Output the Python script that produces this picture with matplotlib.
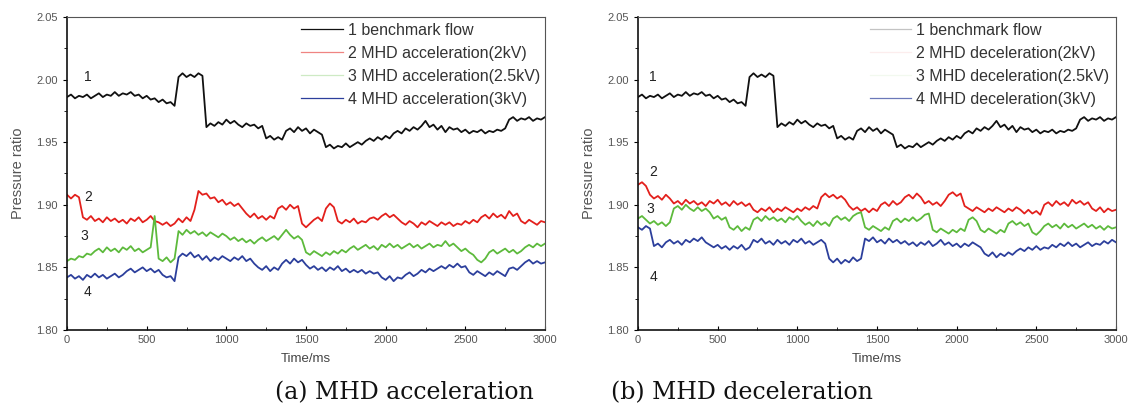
import numpy as np
import matplotlib
matplotlib.use('Agg')
import matplotlib.pyplot as plt
from matplotlib.ticker import MultipleLocator

# time grid (ms), one reading every 25 ms
time_ms = np.arange(0, 3001, 25)

# 1 benchmark flow (same run in both panels)
benchmark = [1.986, 1.988, 1.985, 1.987, 1.986, 1.988, 1.985, 1.987, 1.989, 1.986,
             1.988, 1.987, 1.990, 1.987, 1.989, 1.988, 1.990, 1.987, 1.988, 1.985,
             1.987, 1.984, 1.985, 1.982, 1.984, 1.981, 1.982, 1.979, 2.002, 2.005,
             2.002, 2.004, 2.002, 2.005, 2.003, 1.962, 1.965, 1.963, 1.966, 1.964,
             1.968, 1.965, 1.967, 1.964, 1.962, 1.965, 1.963, 1.964, 1.961, 1.963,
             1.953, 1.955, 1.952, 1.954, 1.952, 1.959, 1.961, 1.958, 1.962, 1.959,
             1.961, 1.957, 1.960, 1.958, 1.956, 1.946, 1.948, 1.945, 1.947, 1.946,
             1.949, 1.946, 1.948, 1.950, 1.948, 1.951, 1.953, 1.951, 1.954, 1.952,
             1.955, 1.953, 1.957, 1.959, 1.957, 1.961, 1.959, 1.962, 1.960, 1.963,
             1.967, 1.962, 1.964, 1.960, 1.963, 1.958, 1.962, 1.960, 1.961, 1.958,
             1.960, 1.957, 1.959, 1.958, 1.960, 1.957, 1.959, 1.958, 1.960, 1.959,
             1.961, 1.968, 1.970, 1.967, 1.969, 1.968, 1.970, 1.967, 1.969, 1.968,
             1.970]

# (a) MHD acceleration
acc_2kv = [1.908, 1.905, 1.908, 1.906, 1.890, 1.888, 1.891, 1.887, 1.889, 1.886,
           1.890, 1.887, 1.889, 1.886, 1.888, 1.885, 1.889, 1.887, 1.890, 1.886,
           1.888, 1.891, 1.887, 1.886, 1.884, 1.886, 1.883, 1.885, 1.889, 1.886,
           1.890, 1.887, 1.896, 1.911, 1.908, 1.909, 1.905, 1.906, 1.902, 1.904,
           1.900, 1.902, 1.899, 1.901, 1.897, 1.893, 1.890, 1.893, 1.889, 1.891,
           1.888, 1.891, 1.889, 1.897, 1.899, 1.896, 1.900, 1.897, 1.899, 1.885,
           1.882, 1.885, 1.888, 1.890, 1.887, 1.897, 1.901, 1.898, 1.887, 1.885,
           1.888, 1.886, 1.889, 1.885, 1.887, 1.886, 1.889, 1.890, 1.888, 1.891,
           1.893, 1.890, 1.892, 1.889, 1.886, 1.884, 1.887, 1.885, 1.882, 1.886,
           1.884, 1.887, 1.885, 1.883, 1.886, 1.884, 1.886, 1.883, 1.885, 1.884,
           1.887, 1.885, 1.888, 1.886, 1.890, 1.892, 1.889, 1.893, 1.890, 1.892,
           1.889, 1.895, 1.891, 1.893, 1.887, 1.885, 1.888, 1.886, 1.884, 1.887,
           1.886]
acc_25kv = [1.855, 1.857, 1.856, 1.859, 1.858, 1.861, 1.860, 1.863, 1.865, 1.862,
            1.866, 1.863, 1.865, 1.862, 1.866, 1.864, 1.867, 1.863, 1.865, 1.862,
            1.864, 1.866, 1.891, 1.857, 1.855, 1.858, 1.854, 1.857, 1.879, 1.876,
            1.880, 1.877, 1.879, 1.876, 1.878, 1.875, 1.878, 1.876, 1.874, 1.877,
            1.875, 1.872, 1.874, 1.871, 1.873, 1.870, 1.872, 1.869, 1.872, 1.874,
            1.871, 1.873, 1.875, 1.872, 1.876, 1.880, 1.876, 1.873, 1.875, 1.872,
            1.862, 1.860, 1.863, 1.861, 1.859, 1.862, 1.860, 1.863, 1.861, 1.864,
            1.862, 1.865, 1.867, 1.864, 1.866, 1.868, 1.865, 1.867, 1.864, 1.868,
            1.866, 1.869, 1.866, 1.868, 1.865, 1.867, 1.869, 1.866, 1.868, 1.865,
            1.867, 1.869, 1.866, 1.868, 1.867, 1.871, 1.867, 1.869, 1.866, 1.863,
            1.865, 1.862, 1.860, 1.856, 1.854, 1.857, 1.862, 1.864, 1.861, 1.863,
            1.865, 1.862, 1.864, 1.861, 1.863, 1.866, 1.868, 1.866, 1.869, 1.867,
            1.869]
acc_3kv = [1.842, 1.844, 1.841, 1.843, 1.840, 1.844, 1.842, 1.845, 1.842, 1.844,
           1.841, 1.843, 1.845, 1.842, 1.844, 1.847, 1.849, 1.846, 1.848, 1.850,
           1.847, 1.849, 1.846, 1.848, 1.844, 1.842, 1.843, 1.839, 1.858, 1.861,
           1.859, 1.862, 1.858, 1.860, 1.856, 1.859, 1.855, 1.858, 1.856, 1.859,
           1.857, 1.855, 1.858, 1.856, 1.859, 1.855, 1.857, 1.853, 1.850, 1.848,
           1.851, 1.847, 1.850, 1.848, 1.853, 1.856, 1.853, 1.857, 1.854, 1.856,
           1.852, 1.849, 1.851, 1.848, 1.850, 1.847, 1.850, 1.848, 1.851, 1.847,
           1.849, 1.846, 1.848, 1.846, 1.848, 1.845, 1.847, 1.845, 1.846, 1.842,
           1.840, 1.843, 1.839, 1.842, 1.841, 1.844, 1.846, 1.843, 1.845, 1.848,
           1.846, 1.849, 1.847, 1.849, 1.851, 1.849, 1.852, 1.850, 1.853, 1.850,
           1.851, 1.846, 1.844, 1.847, 1.845, 1.843, 1.846, 1.844, 1.847, 1.845,
           1.843, 1.849, 1.850, 1.848, 1.851, 1.854, 1.856, 1.853, 1.855, 1.853,
           1.854]

# (b) MHD deceleration
dec_2kv = [1.916, 1.918, 1.915, 1.908, 1.905, 1.907, 1.904, 1.908, 1.905, 1.901,
           1.903, 1.900, 1.904, 1.901, 1.903, 1.900, 1.902, 1.899, 1.903, 1.901,
           1.904, 1.900, 1.902, 1.899, 1.903, 1.900, 1.902, 1.899, 1.901, 1.896,
           1.894, 1.897, 1.895, 1.898, 1.894, 1.897, 1.895, 1.898, 1.896, 1.894,
           1.897, 1.895, 1.898, 1.896, 1.899, 1.897, 1.906, 1.909, 1.906, 1.908,
           1.905, 1.907, 1.904, 1.899, 1.896, 1.898, 1.895, 1.897, 1.894, 1.897,
           1.895, 1.900, 1.902, 1.899, 1.903, 1.900, 1.902, 1.906, 1.908, 1.905,
           1.909, 1.906, 1.901, 1.903, 1.900, 1.902, 1.899, 1.903, 1.908, 1.910,
           1.907, 1.909, 1.899, 1.897, 1.895, 1.898, 1.896, 1.894, 1.897, 1.895,
           1.898, 1.896, 1.894, 1.897, 1.895, 1.898, 1.896, 1.893, 1.896, 1.893,
           1.895, 1.892, 1.900, 1.902, 1.899, 1.903, 1.900, 1.902, 1.899, 1.904,
           1.901, 1.903, 1.900, 1.902, 1.897, 1.895, 1.898, 1.894, 1.897, 1.895,
           1.896]
dec_25kv = [1.889, 1.891, 1.888, 1.885, 1.887, 1.884, 1.886, 1.883, 1.886, 1.897,
            1.899, 1.896, 1.900, 1.897, 1.895, 1.898, 1.895, 1.897, 1.894, 1.889,
            1.891, 1.888, 1.890, 1.882, 1.880, 1.883, 1.879, 1.882, 1.880, 1.888,
            1.890, 1.887, 1.891, 1.888, 1.890, 1.887, 1.889, 1.886, 1.890, 1.888,
            1.891, 1.887, 1.884, 1.886, 1.883, 1.887, 1.884, 1.886, 1.883, 1.889,
            1.891, 1.888, 1.890, 1.887, 1.891, 1.893, 1.894, 1.882, 1.880, 1.883,
            1.881, 1.879, 1.882, 1.880, 1.887, 1.889, 1.886, 1.889, 1.887, 1.890,
            1.887, 1.889, 1.892, 1.893, 1.880, 1.878, 1.881, 1.879, 1.877, 1.880,
            1.878, 1.881, 1.879, 1.888, 1.890, 1.887, 1.880, 1.878, 1.881, 1.879,
            1.877, 1.880, 1.878, 1.885, 1.887, 1.884, 1.886, 1.883, 1.885, 1.878,
            1.876, 1.879, 1.883, 1.885, 1.882, 1.884, 1.881, 1.885, 1.882, 1.884,
            1.881, 1.883, 1.885, 1.882, 1.884, 1.881, 1.883, 1.880, 1.883, 1.881,
            1.882]
dec_3kv = [1.882, 1.880, 1.883, 1.881, 1.867, 1.869, 1.866, 1.870, 1.872, 1.869,
           1.871, 1.868, 1.872, 1.870, 1.873, 1.871, 1.874, 1.870, 1.868, 1.866,
           1.868, 1.865, 1.867, 1.864, 1.867, 1.865, 1.868, 1.864, 1.866, 1.872,
           1.870, 1.873, 1.869, 1.871, 1.868, 1.872, 1.869, 1.871, 1.868, 1.872,
           1.870, 1.873, 1.869, 1.871, 1.868, 1.870, 1.872, 1.869, 1.857, 1.854,
           1.857, 1.853, 1.856, 1.854, 1.858, 1.855, 1.857, 1.873, 1.871, 1.874,
           1.870, 1.872, 1.869, 1.873, 1.870, 1.872, 1.869, 1.871, 1.868, 1.870,
           1.867, 1.870, 1.868, 1.871, 1.867, 1.869, 1.872, 1.868, 1.870, 1.867,
           1.869, 1.866, 1.869, 1.867, 1.870, 1.868, 1.866, 1.861, 1.859, 1.862,
           1.858, 1.861, 1.859, 1.862, 1.860, 1.863, 1.865, 1.863, 1.866, 1.864,
           1.867, 1.864, 1.866, 1.865, 1.868, 1.866, 1.869, 1.867, 1.870, 1.867,
           1.869, 1.866, 1.868, 1.870, 1.867, 1.869, 1.868, 1.871, 1.869, 1.872,
           1.870]

labels_acc = ['1 benchmark flow', '2 MHD acceleration(2kV)',
              '3 MHD acceleration(2.5kV)', '4 MHD acceleration(3kV)']
labels_dec = ['1 benchmark flow', '2 MHD deceleration(2kV)',
              '3 MHD deceleration(2.5kV)', '4 MHD deceleration(3kV)']
colors = ['#111111', '#e3201c', '#5dba3c', '#2c3f9c']

plt.rcParams['font.family'] = ['Liberation Sans', 'DejaVu Sans']


def draw_panel(ax, series, labels, legend_alpha, tags, leg_x):
    for y, c, lab in zip(series, colors, labels):
        ax.plot(time_ms, y, color=c, lw=1.3, label=lab)
    for num, (tx, ty) in enumerate(tags, start=1):
        ax.text(tx, ty, str(num), fontsize=10, color='#222222', ha='center', va='center')
    ax.set_xlim(0, 3000)
    ax.set_ylim(1.80, 2.05)
    ax.xaxis.set_major_locator(MultipleLocator(500))
    ax.xaxis.set_minor_locator(MultipleLocator(250))
    ax.yaxis.set_major_locator(MultipleLocator(0.05))
    ax.yaxis.set_minor_locator(MultipleLocator(0.025))
    ax.yaxis.set_major_formatter(plt.FormatStrFormatter('%.2f'))
    ax.tick_params(axis='both', which='major', labelsize=8, labelcolor='#555555',
                   length=3, width=0.8)
    ax.tick_params(axis='both', which='minor', length=2, width=0.6)
    ax.tick_params(axis='x', which='both', direction='in')
    ax.tick_params(axis='y', which='both', direction='out')
    for s in ['left', 'bottom']:
        ax.spines[s].set_linewidth(1.2)
        ax.spines[s].set_color('#111111')
    for s in ['top', 'right']:
        ax.spines[s].set_linewidth(0.8)
        ax.spines[s].set_color('#555555')
    ax.set_xlabel('Time/ms', fontsize=9.5, color='#444444', labelpad=6)
    ax.set_ylabel('Pressure ratio', fontsize=10.5, color='#555555', labelpad=8)
    leg = ax.legend(loc='upper left', bbox_to_anchor=(leg_x, 0.982), frameon=False,
                    fontsize=11.5, handlelength=2.6, handletextpad=0.3,
                    labelspacing=0.5, borderpad=0, borderaxespad=0)
    for line, a in zip(leg.get_lines(), legend_alpha):
        line.set_alpha(a)
        line.set_linewidth(0.9)
    for t in leg.get_texts():
        t.set_color('#333333')


fig = plt.figure(figsize=(11.3, 4.13), dpi=100)
ax1 = fig.add_axes([0.0593, 0.201, 0.423, 0.758])
ax2 = fig.add_axes([0.5646, 0.201, 0.423, 0.758])

draw_panel(ax1, [benchmark, acc_2kv, acc_25kv, acc_3kv], labels_acc,
           [1.0, 0.55, 0.3, 1.0],
           [(130, 2.002), (130, 1.906), (110, 1.875), (130, 1.830)], 0.49)
draw_panel(ax2, [benchmark, dec_2kv, dec_25kv, dec_3kv], labels_dec,
           [0.25, 0.08, 0.08, 0.7],
           [(95, 2.002), (95, 1.926), (80, 1.897), (95, 1.842)], 0.485)

fig.text(0.358, 0.05, '(a) MHD acceleration', family='DejaVu Serif', fontsize=17,
         ha='center', va='center', color='#111111')
fig.text(0.657, 0.05, '(b) MHD deceleration', family='DejaVu Serif', fontsize=17,
         ha='center', va='center', color='#111111')

fig.savefig('out.png', dpi=100)
